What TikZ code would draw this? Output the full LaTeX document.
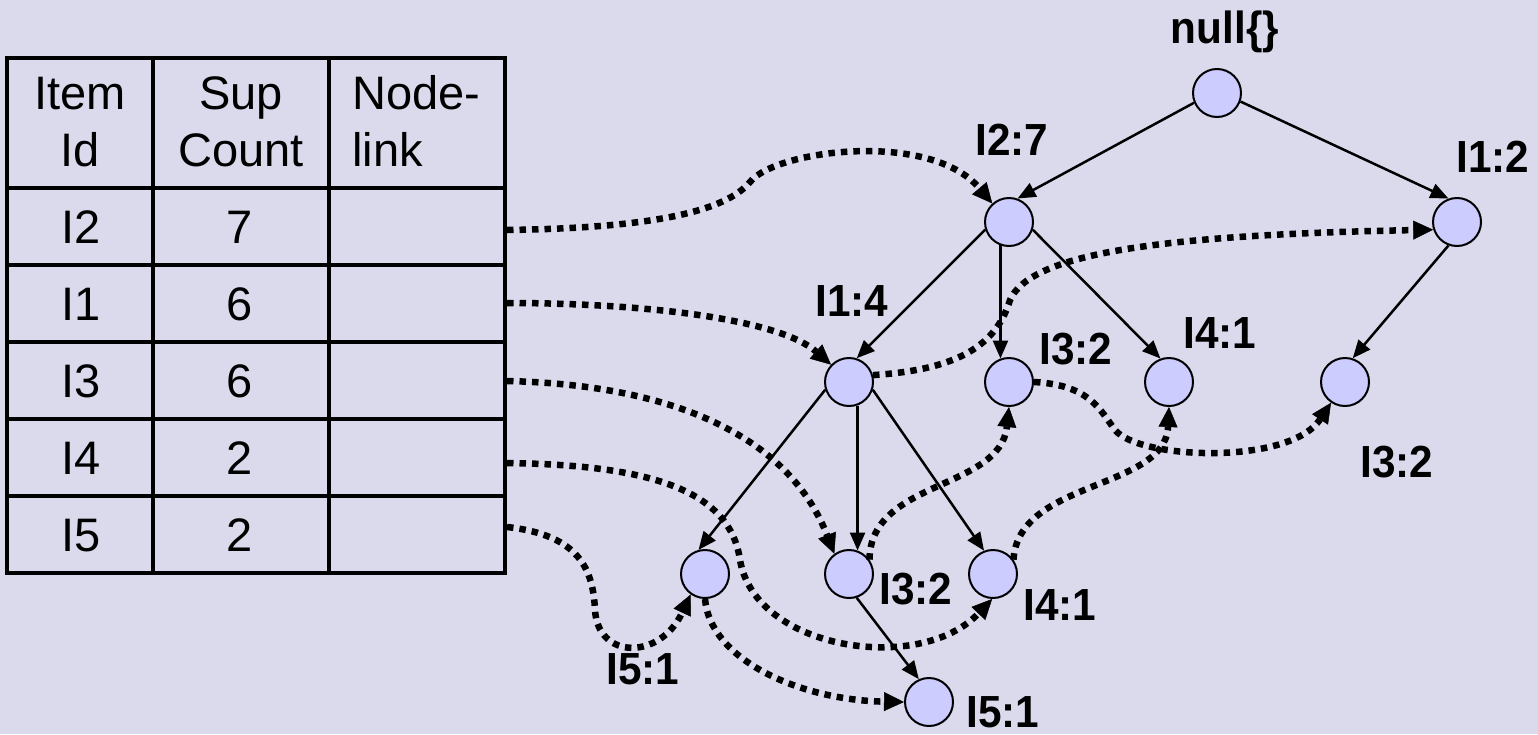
\documentclass[tikz,border=0pt]{standalone}
\usepackage{fontspec}
\setmainfont{Liberation Sans}
\newfontfamily\labfont[FakeStretch=0.94]{Liberation Sans}
\usetikzlibrary{arrows.meta}
\definecolor{bg}{RGB}{219,218,237}
\definecolor{nodefill}{RGB}{204,204,255}
\tikzset{
  tnode/.style={circle, draw=black, line width=2pt, fill=nodefill, minimum size=48pt, inner sep=0pt},
  lab/.style={font=\labfont\bfseries\fontsize{45}{45}\selectfont, anchor=base, inner sep=0pt},
  tree/.style={line width=2.5pt, -{Triangle[length=18pt,width=15pt]}},
  link/.style={line width=6.5pt, line cap=butt, dash pattern=on 6.5pt off 6pt, -{Triangle[length=20pt,width=19pt,line width=0.5pt]}},
  cell/.style={font=\fontsize{47}{57}\selectfont, inner sep=0pt, anchor=base},
  cellL/.style={cell, anchor=base west},
  outer/.style={line width=4.5pt},
  inner/.style={line width=3.5pt},
}
\begin{document}
\begin{tikzpicture}[x=1pt,y=-1pt]
\fill[bg] (0,0) rectangle (1538,734);
\useasboundingbox (0,0) rectangle (1538,734);

% ---------- table ----------
\foreach \yy in {188,265,342,419,496} \draw[inner] (7,\yy) -- (505,\yy);
\foreach \xx in {153,329} \draw[inner] (\xx,58) -- (\xx,573);
\draw[outer] (7,58) rectangle (505,573);

\node[cell] (h1a) at (80,109) {Item};
\node[cell] (h1b) at (80,166) {Id};
\node[cell] (h2a) at (241,109) {Sup};
\node[cell] (h2b) at (241,166) {Count};
\node[cellL] (h3a) at (352,109) {Node-};
\node[cellL] (h3b) at (352,166) {link};

\node[cell] (i2) at (81,243) {I2};  \node[cell] (s2) at (240,243) {7};
\node[cell] (i1) at (81,320) {I1};  \node[cell] (s1) at (240,320) {6};
\node[cell] (i3) at (81,397) {I3};  \node[cell] (s3) at (240,397) {6};
\node[cell] (i4) at (81,474) {I4};  \node[cell] (s4) at (240,474) {2};
\node[cell] (i5) at (81,551) {I5};  \node[cell] (s5) at (240,551) {2};

\coordinate (r2) at (507,230);
\coordinate (r1) at (507,303);
\coordinate (r3) at (507,381);
\coordinate (r4) at (507,463);
\coordinate (r5) at (507,527);

% ---------- tree nodes ----------
\node[tnode] (root) at (1217,93) {};
\node[tnode] (a27) at (1009,222) {};
\node[tnode] (a12) at (1457,222) {};
\node[tnode] (b14) at (849,382) {};
\node[tnode] (b32) at (1009,382) {};
\node[tnode] (b41) at (1169,382) {};
\node[tnode] (b32r) at (1345,382) {};
\node[tnode] (c51) at (705,574) {};
\node[tnode] (c32) at (849,574) {};
\node[tnode] (c41) at (993,574) {};
\node[tnode] (d51) at (929,702) {};

% ---------- labels ----------
\node[lab] (lroot) at (1225,43) {null\{\}};
\node[lab] (la27) at (1012,155) {I2:7};
\node[lab] (la12) at (1493,172) {I1:2};
\node[lab] (lb14) at (852,316) {I1:4};
\node[lab] (lb32) at (1076,364) {I3:2};
\node[lab] (lb41) at (1220,348) {I4:1};
\node[lab] (lb32r) at (1397,477) {I3:2};
\node[lab] (lc32) at (916,604) {I3:2};
\node[lab] (lc41) at (1060,620) {I4:1};
\node[lab] (lc51) at (643,684) {I5:1};
\node[lab] (ld51) at (1003,727) {I5:1};

% ---------- tree edges ----------
\draw[tree] (root.203) -- (a27.70);
\draw[tree] (root.-20) -- (a12.110);
\draw[tree] (a27.198) -- (b14.72);
\draw[tree] (a27.250) -- (b32.110);
\draw[tree] (a27.-18) -- (b41.110);
\draw[tree] (a12.250) -- (b32r.72);
\draw[tree] (b14.198) -- (c51.105);
\draw[tree] (b14.290) -- (c32.70);
\draw[tree] (b14.-18) -- (c41.111);
\draw[tree] (c32.-72) -- (d51.114);

% ---------- node links ----------
\draw[link] (r2) .. controls (650,228) and (725,212) .. (750,182)
                 .. controls (775,150) and (930,130) .. (a27.132);
\draw[link] (r1) .. controls (650,303) and (780,320) .. (b14.136);
\draw[link] (r3) .. controls (680,385) and (790,440) .. (c32.126);
\draw[link] (r4) .. controls (650,465) and (730,490) .. (740,560)
                 .. controls (755,650) and (920,675) .. (c41.268);
\draw[link] (r5) .. controls (580,535) and (593,570) .. (595,610)
                 .. controls (598,660) and (660,660) .. (c51.235);
\draw[link] (b14.16) .. controls (950,370) and (995,350) .. (1010,300)
                 .. controls (1030,255) and (1150,235) .. (a12.198);
\draw[link] (b32.0) .. controls (1090,385) and (1100,410) .. (1115,430)
                 .. controls (1140,460) and (1290,465) .. (b32r.236);
\draw[link] (c32.35) .. controls (870,480) and (1000,490) .. (b32.270);
\draw[link] (c41.35) .. controls (1018,480) and (1165,490) .. (b41.270);
\draw[link] (c51.270) .. controls (710,660) and (800,700) .. (d51.180);
\end{tikzpicture}
\end{document}
